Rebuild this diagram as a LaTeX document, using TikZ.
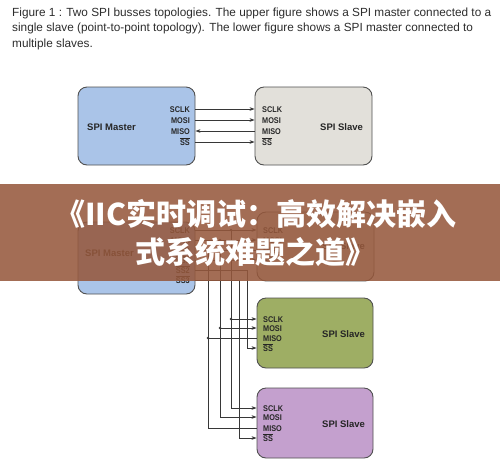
\documentclass[tikz,border=0pt]{standalone}
\usepackage{fontspec}
\setmainfont{Liberation Sans}
\newfontfamily\sigfont[FakeStretch=0.88]{Liberation Sans}
\newfontfamily\cjk{Noto Sans CJK SC}
\usetikzlibrary{arrows.meta}
\definecolor{masterblue}{RGB}{170,196,232}
\definecolor{slavegray}{RGB}{226,224,218}
\definecolor{slavegreen}{RGB}{158,174,100}
\definecolor{slavepurple}{RGB}{196,160,206}
\definecolor{borderc}{RGB}{80,80,80}
\definecolor{linec}{RGB}{55,55,55}
\definecolor{captionc}{RGB}{45,45,45}
\definecolor{bannerc}{RGB}{150,88,60}
\newcommand{\ovl}[1]{\(\overline{\hbox{#1}}\)}
\begin{document}
\begin{tikzpicture}[x=1pt,y=-1pt,
  box/.style={draw=borderc, line width=0.9pt, rounded corners=9pt, inner sep=0pt},
  sig/.style={font=\sigfont\bfseries\fontsize{8.3}{8.5}\selectfont, inner sep=0pt, text=black!85},
  boxtitle/.style={font=\bfseries\fontsize{9.5}{10}\selectfont, inner sep=0pt, text=black!85, anchor=west},
  captext/.style={font=\fontsize{11.8}{13}\selectfont, text=captionc, inner sep=0pt, anchor=base west},
  wire/.style={draw=linec, line width=0.7pt},
  arr/.style={wire, -{Stealth[length=5pt,width=3.6pt]}},
  dot/.style={circle, fill=linec, inner sep=0pt, minimum size=2.8pt},
  bigtitle/.style={font=\cjk\bfseries\fontsize{30}{30}\selectfont, text=white, inner sep=0pt, anchor=base}
]
\useasboundingbox (0,0) rectangle (500,467);
\fill[white] (0,0) rectangle (500,467);

% caption
\node[captext] (cap1) at (12,16) {Figure 1 : Two SPI busses topologies. The upper figure shows a SPI master connected to a};
\node[captext] (cap2) at (12,31.5) {single slave (point-to-point topology). The lower figure shows a SPI master connected to};
\node[captext] (cap3) at (12,47) {multiple slaves.};

% ---------- upper figure ----------
\node[box, fill=masterblue, minimum width=117pt, minimum height=78pt] (m1) at (136.5,126) {};
\node[box, fill=slavegray, minimum width=117pt, minimum height=78pt] (s1) at (313.5,126) {};
\node[boxtitle] (m1t) at (87,127) {SPI Master};
\node[boxtitle] (s1t) at (320,127) {SPI Slave};

\node[sig, anchor=base east] (m1a) at (190,112) {SCLK};
\node[sig, anchor=base east] (m1b) at (190,123) {MOSI};
\node[sig, anchor=base east] (m1c) at (190,134) {MISO};
\node[sig, anchor=base east] (m1d) at (190,145) {\ovl{SS}};
\node[sig, anchor=base west] (s1a) at (262,112) {SCLK};
\node[sig, anchor=base west] (s1b) at (262,123) {MOSI};
\node[sig, anchor=base west] (s1c) at (262,134) {MISO};
\node[sig, anchor=base west] (s1d) at (262,145) {\ovl{SS}};

\coordinate (r1) at (0,109);
\coordinate (r2) at (0,120);
\coordinate (r3) at (0,131);
\coordinate (r4) at (0,142);
\draw[arr] (m1.east |- r1) -- (s1.west |- r1);
\draw[arr] (m1.east |- r2) -- (s1.west |- r2);
\draw[arr] (s1.west |- r3) -- (m1.east |- r3);
\draw[arr] (m1.east |- r4) -- (s1.west |- r4);

% ---------- lower figure ----------
\node[box, fill=masterblue, minimum width=117pt, minimum height=72pt] (m2) at (136.5,258) {};
\node[box, fill=slavegray, minimum width=117pt, minimum height=69pt] (sA) at (315.5,246.5) {};
\node[box, fill=slavegreen, minimum width=116pt, minimum height=70pt] (sB) at (315,333) {};
\node[box, fill=slavepurple, minimum width=116pt, minimum height=70pt] (sC) at (315,423) {};
\node[boxtitle] (m2t) at (85,253) {SPI Master};
\node[boxtitle] (sAt) at (322,246) {SPI Slave};
\node[boxtitle] (sBt) at (322,334) {SPI Slave};
\node[boxtitle] (sCt) at (322,424) {SPI Slave};

\node[sig, anchor=base east] (m2a) at (190,233) {SCLK};
\node[sig, anchor=base east] (m2b) at (190,243) {MOSI};
\node[sig, anchor=base east] (m2c) at (190,253) {MISO};
\node[sig, anchor=base east] (m2d) at (190,263) {\ovl{SS1}};
\node[sig, anchor=base east] (m2e) at (190,273) {\ovl{SS2}};
\node[sig, anchor=base east] (m2f) at (190,283) {\ovl{SS3}};

\node[sig, anchor=base west] (sAa) at (263,233) {SCLK};
\node[sig, anchor=base west] (sAb) at (263,243) {MOSI};
\node[sig, anchor=base west] (sAc) at (263,253) {MISO};
\node[sig, anchor=base west] (sAd) at (263,263) {\ovl{SS}};

\node[sig, anchor=base west] (sBa) at (263,322) {SCLK};
\node[sig, anchor=base west] (sBb) at (263,331) {MOSI};
\node[sig, anchor=base west] (sBc) at (263,341) {MISO};
\node[sig, anchor=base west] (sBd) at (263,351) {\ovl{SS}};

\node[sig, anchor=base west] (sCa) at (263,411) {SCLK};
\node[sig, anchor=base west] (sCb) at (263,420) {MOSI};
\node[sig, anchor=base west] (sCc) at (263,431) {MISO};
\node[sig, anchor=base west] (sCd) at (263,441) {\ovl{SS}};

% rows
\coordinate (q1) at (0,230);
\coordinate (q2) at (0,240);
\coordinate (q3) at (0,250);
\coordinate (q4) at (0,260);
\coordinate (q5) at (0,270);
\coordinate (q6) at (0,280);
\coordinate (v1) at (0,319);
\coordinate (v2) at (0,328);
\coordinate (v3) at (0,338);
\coordinate (v4) at (0,348);
\coordinate (u1) at (0,408);
\coordinate (u2) at (0,417);
\coordinate (u3) at (0,428);
\coordinate (u4) at (0,438);
% bus columns
\coordinate (bI) at (208,0);
\coordinate (bO) at (220,0);
\coordinate (bS) at (231,0);
\coordinate (b3) at (239,0);
\coordinate (b2) at (247,0);

% SCLK
\draw[arr] (m2.east |- q1) -- (sA.west |- q1);
\draw[arr] (bS |- q1) -- (bS |- u1) -- (sC.west |- u1);
\draw[arr] (bS |- v1) -- (sB.west |- v1);
% MOSI
\draw[arr] (m2.east |- q2) -- (sA.west |- q2);
\draw[arr] (bO |- q2) -- (bO |- u2) -- (sC.west |- u2);
\draw[arr] (bO |- v2) -- (sB.west |- v2);
% MISO
\draw[arr] (sA.west |- q3) -- (m2.east |- q3);
\draw[wire] (bI |- q3) -- (bI |- u3) -- (sC.west |- u3);
\draw[wire] (bI |- v3) -- (sB.west |- v3);
% SS lines
\draw[arr] (m2.east |- q4) -- (sA.west |- q4);
\draw[arr] (m2.east |- q5) -- (b2 |- q5) -- (b2 |- v4) -- (sB.west |- v4);
\draw[arr] (m2.east |- q6) -- (b3 |- q6) -- (b3 |- u4) -- (sC.west |- u4);
% junction dots
\node[dot] (d1) at (bS |- q1) {};
\node[dot] (d2) at (bO |- q2) {};
\node[dot] (d3) at (bI |- q3) {};
\node[dot] (d4) at (bS |- v1) {};
\node[dot] (d5) at (bO |- v2) {};
\node[dot] (d6) at (bI |- v3) {};

% ---------- banner ----------
\fill[bannerc, opacity=0.87] (0,184) rectangle (500,281);
\node[bigtitle] (t1) at (256,225.5) {《IIC实时调试：高效解决嵌入};
\node[bigtitle] (t2) at (255,263) {式系统难题之道》};
\end{tikzpicture}
\end{document}
